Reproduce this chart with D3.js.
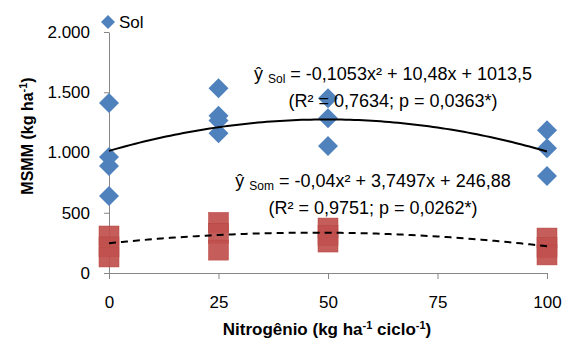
<!DOCTYPE html>
<html>
<head>
<meta charset="utf-8">
<style>
body { margin: 0; background: #fff; }
text { font-family: "Liberation Sans", Arial, sans-serif; fill: #000; }
.axis path, .axis line { stroke: #868686; }
</style>
</head>
<body>
<script src="https://d3js.org/d3.v7.min.js"></script>
<script>
var width = 563, height = 345;

// doses de nitrogênio
var doses = [0, 25, 50, 100];
var xTicks = [0, 25, 50, 75, 100];
var yTicks = [0, 500, 1000, 1500, 2000];

// MSMM - Sol (kg/ha), por dose
var sol = [
  [1410, 962, 887, 638],
  [1534, 1305, 1265, 1160],
  [1450, 1285, 1053],
  [1185, 1036, 804]
];
// MSMM - Som (kg/ha)
var som = [
  [307, 216, 133],
  [420, 330, 190],
  [373, 310, 257],
  [290, 210, 150]
];

var solCoef = [-0.1053, 10.48, 1013.5];
var somCoef = [-0.04, 3.7497, 246.88];

var svg = d3.select("body").append("svg")
  .attr("width", width)
  .attr("height", height);

var x = d3.scaleLinear().domain([0, 100]).range([109, 547]);
var y = d3.scaleLinear().domain([0, 2000]).range([273, 32]);

var fmt = function(d) { return d3.format(",")(d).replace(",", "."); };

svg.append("g")
  .attr("class", "axis")
  .attr("transform", "translate(" + x(0) + ",0)")
  .call(d3.axisLeft(y).tickValues(yTicks).tickSize(5).tickSizeOuter(0).tickFormat(fmt))
  .call(function(g) {
    g.selectAll("text").attr("font-size", 17).attr("x", -19).attr("fill", "#000");
  });

svg.append("g")
  .attr("class", "axis")
  .attr("transform", "translate(0," + y(0) + ")")
  .call(d3.axisBottom(x).tickValues(xTicks).tickSize(6).tickSizeOuter(0))
  .call(function(g) {
    g.selectAll("text").attr("font-size", 17).attr("y", 35).attr("dy", 0).attr("fill", "#000");
  });

// Som points (squares)
var somPts = [];
som.forEach(function(vals, i) {
  vals.forEach(function(v) { somPts.push([doses[i], v]); });
});
svg.append("g").selectAll("rect")
  .data(somPts).enter().append("rect")
  .attr("x", function(d) { return x(d[0]) - 10; })
  .attr("y", function(d) { return y(d[1]) - 10; })
  .attr("width", 20).attr("height", 20)
  .attr("fill", "#c0504d")
  .attr("fill-opacity", 0.92)
  .attr("stroke", "#b5443f")
  .attr("stroke-width", 0.5);

// Sol points (diamonds)
var solPts = [];
sol.forEach(function(vals, i) {
  vals.forEach(function(v) { solPts.push([doses[i], v]); });
});
var diamond = "M0,-10L10,0L0,10L-10,0Z";
svg.append("g").selectAll("path")
  .data(solPts).enter().append("path")
  .attr("d", diamond)
  .attr("transform", function(d) { return "translate(" + x(d[0]) + "," + y(d[1]) + ")"; })
  .attr("fill", "#4f81bd");

// regression curves
function quad(c) {
  return d3.range(0, 100.5, 1).map(function(t) { return [t, c[0] * t * t + c[1] * t + c[2]]; });
}
var line = d3.line().x(function(d) { return x(d[0]); }).y(function(d) { return y(d[1]); });

svg.append("path")
  .attr("d", line(quad(solCoef)))
  .attr("fill", "none").attr("stroke", "#000").attr("stroke-width", 2);

svg.append("path")
  .attr("d", line(quad(somCoef)))
  .attr("fill", "none").attr("stroke", "#000").attr("stroke-width", 2)
  .attr("stroke-dasharray", "7,5");

// legend
svg.append("path").attr("d", "M0,-7L7,0L0,7L-7,0Z")
  .attr("transform", "translate(108,22)").attr("fill", "#4f81bd");
svg.append("text").attr("x", 119).attr("y", 28).attr("font-size", 17).text("Sol");

// equations
function eq(cx, y0, sub, rest, line2) {
  var t = svg.append("text").attr("x", cx).attr("y", y0)
    .attr("text-anchor", "middle").attr("font-size", 18);
  t.append("tspan").text("ŷ ");
  t.append("tspan").attr("font-size", 12).attr("dy", 3).text(sub);
  t.append("tspan").attr("dy", -3).text(" " + rest);
  svg.append("text").attr("x", cx).attr("y", y0 + 27)
    .attr("text-anchor", "middle").attr("font-size", 18).text(line2);
}
eq(393, 80, "Sol", "= -0,1053x² + 10,48x + 1013,5", "(R² = 0,7634; p = 0,0363*)");
eq(373, 187, "Som", "= -0,04x² + 3,7497x + 246,88", "(R² = 0,9751; p = 0,0262*)");

// axis titles
var xt = svg.append("text").attr("x", 327).attr("y", 335)
  .attr("text-anchor", "middle").attr("font-size", 17).attr("font-weight", "bold");
xt.append("tspan").text("Nitrogênio (kg ha");
xt.append("tspan").attr("font-size", 11).attr("dy", -6).text("-1");
xt.append("tspan").attr("dy", 6).text(" ciclo");
xt.append("tspan").attr("font-size", 11).attr("dy", -6).text("-1");
xt.append("tspan").attr("dy", 6).text(")");

var yt = svg.append("text")
  .attr("transform", "translate(33,136) rotate(-90)")
  .attr("text-anchor", "middle").attr("font-size", 16).attr("font-weight", "bold");
yt.append("tspan").text("MSMM (kg ha");
yt.append("tspan").attr("font-size", 11).attr("dy", -6).text("-1");
yt.append("tspan").attr("dy", 6).text(")");
</script>
</body>
</html>
